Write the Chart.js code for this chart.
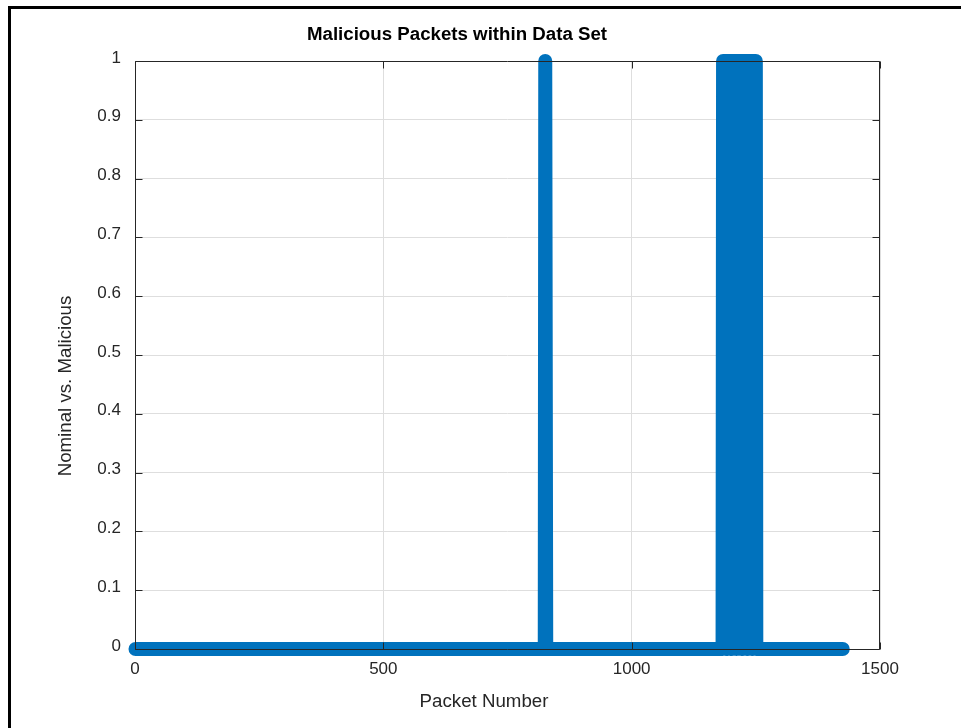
<!DOCTYPE html>
<html>
<head>
<meta charset="utf-8">
<title>Malicious Packets within Data Set</title>
<script src="https://cdn.jsdelivr.net/npm/chart.js@4/dist/chart.umd.min.js"></script>
<style>
  html, body { margin: 0; padding: 0; background: #ffffff; }
  #wrap { position: relative; width: 961px; height: 728px; overflow: hidden; }
  #plot { position: absolute; left: 0; top: 0; }
  #frame {
    position: absolute; left: 8px; top: 6px; right: -10px; bottom: -10px;
    border-left: 3px solid #000; border-top: 3px solid #000;
    pointer-events: none;
  }
</style>
</head>
<body>
<div id="wrap">
  <canvas id="plot" width="961" height="728"></canvas>
  <div id="frame"></div>
</div>
<script>
// Packet flags: 0 = nominal, 1 = malicious. Only the packets where the
// flag changes are listed; the line runs straight between them.
const packetNumber = [
  1, 825, 826, 827, 828,
  1183, 1184, 1189, 1190, 1192, 1193, 1198, 1199, 1201, 1202,
  1210, 1211, 1212, 1213, 1220, 1221, 1223, 1224, 1231, 1232,
  1234, 1235, 1241, 1242, 1243, 1244, 1250, 1251,
  1425
];
const maliciousFlag = [
  0, 0, 1, 1, 0,
  0, 1, 1, 0, 0, 1, 1, 0, 0, 1,
  1, 0, 0, 1, 1, 0, 0, 1, 1, 0,
  0, 1, 1, 0, 0, 1, 1, 0,
  0
];

const xTicks = [0, 500, 1000, 1500];
const yTicks = [0, 0.1, 0.2, 0.3, 0.4, 0.5, 0.6, 0.7, 0.8, 0.9, 1];
const yTickLabels = ['0', '0.1', '0.2', '0.3', '0.4', '0.5', '0.6', '0.7', '0.8', '0.9', '1'];

const chartTitle = 'Malicious Packets within Data Set';
const xLabel = 'Packet Number';
const yLabel = 'Nominal vs. Malicious';

const FONT = "'Liberation Sans', Arial, Helvetica, sans-serif";
const AXIS_COLOR = '#262626';

// Box around the axes with inward tick marks on all four sides.
const boxAxes = {
  id: 'boxAxes',
  afterDatasetsDraw(chart) {
    const { ctx, chartArea: a, scales: { x, y } } = chart;
    const L = a.left + 0.5, R = a.right - 0.5, T = a.top + 0.5, B = a.bottom + 0.5;
    const len = 7;
    ctx.save();
    ctx.strokeStyle = AXIS_COLOR;
    ctx.lineWidth = 1;
    ctx.beginPath();
    ctx.rect(L, T, R - L, B - T);
    xTicks.forEach(v => {
      const px = Math.round(x.getPixelForValue(v)) + 0.5;
      ctx.moveTo(px, B); ctx.lineTo(px, B - len);
      ctx.moveTo(px, T); ctx.lineTo(px, T + len);
    });
    yTicks.forEach(v => {
      const py = Math.round(y.getPixelForValue(v)) + 0.5;
      ctx.moveTo(L, py); ctx.lineTo(L + len, py);
      ctx.moveTo(R, py); ctx.lineTo(R - len, py);
    });
    ctx.stroke();
    ctx.restore();
  }
};

// Title and axis labels.
const axisText = {
  id: 'axisText',
  afterDraw(chart) {
    const { ctx } = chart;
    ctx.save();
    ctx.textAlign = 'center';
    ctx.textBaseline = 'middle';
    ctx.fillStyle = '#000000';
    ctx.font = 'bold 18.7px ' + FONT;
    ctx.fillText(chartTitle, 457, 35);
    ctx.fillStyle = AXIS_COLOR;
    ctx.font = '18.7px ' + FONT;
    ctx.fillText(xLabel, 484, 702);
    ctx.translate(66, 386);
    ctx.rotate(-Math.PI / 2);
    ctx.fillText(yLabel, 0, 0);
    ctx.restore();
  }
};

const points = packetNumber.map((p, i) => ({ x: p, y: maliciousFlag[i] }));

new Chart(document.getElementById('plot'), {
  type: 'line',
  data: {
    datasets: [{
      data: points,
      borderColor: '#0072BD',
      borderWidth: 14,
      borderCapStyle: 'round',
      borderJoinStyle: 'round',
      pointRadius: 0,
      pointHoverRadius: 0,
      tension: 0,
      fill: false,
      clip: false
    }]
  },
  options: {
    responsive: false,
    animation: false,
    devicePixelRatio: 1,
    layout: { padding: { left: 0, right: 81, top: 61, bottom: 0 } },
    plugins: {
      legend: { display: false },
      title: { display: false },
      tooltip: { enabled: false }
    },
    scales: {
      x: {
        type: 'linear',
        min: 0,
        max: 1500,
        afterBuildTicks: s => { s.ticks = xTicks.map(v => ({ value: v })); },
        afterFit: s => { s.height = 79; },
        grid: { color: '#dedede', lineWidth: 1, drawTicks: false },
        border: { display: false },
        ticks: {
          padding: 10,
          color: AXIS_COLOR,
          font: { family: FONT, size: 17 },
          maxRotation: 0,
          callback: v => String(v)
        }
      },
      y: {
        type: 'linear',
        min: 0,
        max: 1,
        afterBuildTicks: s => { s.ticks = yTicks.map(v => ({ value: v })); },
        afterFit: s => { s.width = 135; },
        grid: { color: '#dedede', lineWidth: 1, drawTicks: false },
        border: { display: false },
        ticks: {
          padding: 14,
          labelOffset: -3,
          color: AXIS_COLOR,
          font: { family: FONT, size: 17 },
          callback: (v, i) => yTickLabels[i]
        }
      }
    }
  },
  plugins: [boxAxes, axisText]
});
</script>
</body>
</html>
